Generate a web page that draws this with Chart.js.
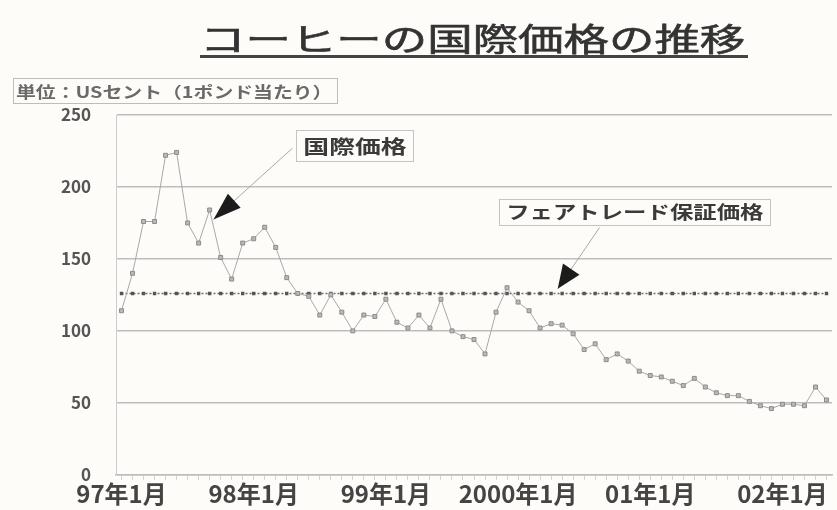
<!DOCTYPE html>
<html><head><meta charset="utf-8">
<script src="https://cdn.jsdelivr.net/npm/chart.js@4.4.1/dist/chart.umd.min.js"></script>
<style>
html,body{margin:0;padding:0;background:#fdfcf8;}
#wrap{position:relative;width:837px;height:510px;overflow:hidden;background:#fdfcf8;}
#c{position:absolute;left:0;top:0;}
#title{position:absolute;left:200px;top:20px;font:normal 32px 'Noto Sans CJK JP',sans-serif;color:#333;transform:scaleX(1.42);transform-origin:0 0;white-space:nowrap;line-height:34px;-webkit-text-stroke:0.6px #333;}
#uline{position:absolute;left:200px;top:55px;width:548px;height:3px;background:#444;}
#unit{position:absolute;left:13px;top:78px;width:325px;height:26px;border:1px solid #bdbdbd;box-sizing:border-box;}
#unit span{position:absolute;left:2px;top:1px;font:bold 16px 'Noto Sans CJK JP',sans-serif;color:#6a6a6a;transform:scaleX(1.24);transform-origin:0 0;white-space:nowrap;line-height:22px;}
</style></head>
<body>
<div id="wrap">
<canvas id="c" width="837" height="510"></canvas>
<div id="title">コーヒーの国際価格の推移</div>
<div id="uline"></div>
<div id="unit"><span>単位：USセント（1ポンド当たり）</span></div>
</div>
<script>
// Monthly categories, Jan 1997 - May 2002
const months = [
 '97/01','97/02','97/03','97/04','97/05','97/06','97/07','97/08','97/09','97/10','97/11','97/12',
 '98/01','98/02','98/03','98/04','98/05','98/06','98/07','98/08','98/09','98/10','98/11','98/12',
 '99/01','99/02','99/03','99/04','99/05','99/06','99/07','99/08','99/09','99/10','99/11','99/12',
 '00/01','00/02','00/03','00/04','00/05','00/06','00/07','00/08','00/09','00/10','00/11','00/12',
 '01/01','01/02','01/03','01/04','01/05','01/06','01/07','01/08','01/09','01/10','01/11','01/12',
 '02/01','02/02','02/03','02/04','02/05'
];
// International coffee price (US cents per pound)
const coffeePrice = [
 114,140,176,176,222,224,175,161,184,151,136,161,
 164,172,158,137,126,124,111,125,113,100,111,110,
 122,106,102,111,102,122,100,96,94,84,113,130,
 120,114,102,105,104,98,87,91,80,84,79,72,
 69,68,65,62,67,61,57,55,55,51,48,46,
 49,49,48,61,52
];
// Fair trade guaranteed price
const fairTradePrice = [
 126,126,126,126,126,126,126,126,126,126,126,126,
 126,126,126,126,126,126,126,126,126,126,126,126,
 126,126,126,126,126,126,126,126,126,126,126,126,
 126,126,126,126,126,126,126,126,126,126,126,126,
 126,126,126,126,126,126,126,126,126,126,126,126,
 126,126,126,126,126
];
const xTickLabels = ['97年1月','98年1月','99年1月','2000年1月','01年1月','02年1月'];
const yTicks = [0,50,100,150,200,250];
const annTexts = ['国際価格','フェアトレード保証価格'];

const FONT = "'Noto Sans CJK JP', sans-serif";
const annotations = [
  {text: annTexts[0], boxX: 21.2, boxY: 228.6, tipX: 8.35, tipY: 177.4, font: 19, stretch: 1.36, boxH: 31, padX: 7, from: 'left', headL: 28, headW: 19},
  {text: annTexts[1], boxX: 46.6, boxY: 182.9, tipX: 39.6, tipY: 129.2, font: 18, stretch: 1.3, boxH: 26, padX: 7, from: 'bottom', headL: 24, headW: 20}
];

const annPlugin = {
  id: 'ann',
  afterDatasetsDraw(chart) {
    const {ctx, scales: {x, y}} = chart;
    annotations.forEach(a => {
      ctx.save();
      ctx.font = `bold ${a.font}px ${FONT}`;
      const tw = ctx.measureText(a.text).width * a.stretch;
      const bw = tw + 2 * a.padX, bh = a.boxH;
      const cx = x.getPixelForValue(a.boxX), cy = y.getPixelForValue(a.boxY);
      const bx = cx - bw / 2, by = cy - bh / 2;
      const tx = x.getPixelForValue(a.tipX), ty = y.getPixelForValue(a.tipY);
      let sx, sy;
      if (a.from === 'left') { sx = bx - 4; sy = by + bh * 0.58; }
      else { sx = cx - bw * 0.13; sy = by + bh + 3; }
      ctx.strokeStyle = '#a8a8a8'; ctx.lineWidth = 1;
      ctx.beginPath(); ctx.moveTo(sx, sy); ctx.lineTo(tx, ty); ctx.stroke();
      const ang = Math.atan2(ty - sy, tx - sx);
      const c = Math.cos(ang), s = Math.sin(ang);
      const bxm = tx - a.headL * c, bym = ty - a.headL * s;
      ctx.fillStyle = '#1c1c1c';
      ctx.beginPath();
      ctx.moveTo(tx, ty);
      ctx.lineTo(bxm + a.headW / 2 * s, bym - a.headW / 2 * c);
      ctx.lineTo(bxm - a.headW / 2 * s, bym + a.headW / 2 * c);
      ctx.closePath(); ctx.fill();
      ctx.fillStyle = '#fdfcf8'; ctx.fillRect(bx, by, bw, bh);
      ctx.strokeStyle = '#c4c4c4'; ctx.strokeRect(Math.round(bx) + 0.5, Math.round(by) + 0.5, Math.round(bw), Math.round(bh));
      ctx.fillStyle = '#3a3a3a'; ctx.textBaseline = 'middle'; ctx.textAlign = 'left';
      ctx.translate(bx + a.padX, cy + 1); ctx.scale(a.stretch, 1);
      ctx.fillText(a.text, 0, 0);
      ctx.restore();
    });
  }
};

new Chart(document.getElementById('c'), {
  type: 'line',
  data: {
    labels: months,
    datasets: [
      {label: '国際価格', data: coffeePrice, borderColor: '#a8a8a8', borderWidth: 1,
       pointStyle: 'rect', pointRadius: 2.8, pointBackgroundColor: '#b8b8b8', pointBorderColor: '#8c8c8c', pointBorderWidth: 1, tension: 0},
      {label: 'フェアトレード保証価格', data: fairTradePrice, borderColor: '#6e6e6e', borderWidth: 1.5, borderDash: [2, 2],
       pointStyle: 'rect', pointRadius: 2.4, pointBackgroundColor: '#555', pointBorderColor: '#555', pointBorderWidth: 0, tension: 0}
    ]
  },
  options: {
    responsive: false, animation: false, devicePixelRatio: 1,
    layout: {padding: {top: 115, left: 0, right: 0, bottom: 0}},
    plugins: {legend: {display: false}, tooltip: {enabled: false}, title: {display: false}},
    scales: {
      x: {
        type: 'category', offset: true,
        afterFit(s) { s.height = 32; },
        grid: {drawOnChartArea: false, drawTicks: true, tickLength: 5, color: '#cfcfcf', offset: false},
        border: {display: true, color: '#bdbdbd', width: 1.5},
        ticks: {autoSkip: false, maxRotation: 0, minRotation: 0, padding: 0, color: '#444',
          font: {family: FONT, size: 24, weight: 'bold'},
          callback: (v, i) => (i % 12 === 0 ? xTickLabels[i / 12] : '')}
      },
      y: {
        min: yTicks[0], max: yTicks[yTicks.length - 1],
        afterFit(s) { s.width = 116; },
        afterBuildTicks(s) { s.ticks = yTicks.map(v => ({value: v})); },
        grid: {drawTicks: false, color: '#bdbdbd', lineWidth: 1.5},
        border: {display: true, color: '#cccccc', width: 1},
        ticks: {padding: 25, color: '#555', font: {family: FONT, size: 17, weight: 'bold'}}
      }
    }
  },
  plugins: [annPlugin]
});
</script>
</body></html>
